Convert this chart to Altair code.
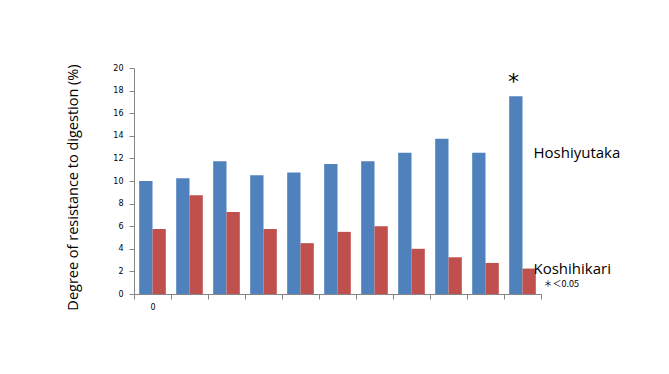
import altair as alt
import pandas as pd

groups = list(range(11))
tick_labels = ["0", "", "", "", "", "", "", "", "", "", ""]
series = ["Hoshiyutaka", "Koshihikari"]
hoshiyutaka = [10.0, 10.25, 11.75, 10.5, 10.75, 11.5, 11.75, 12.5, 13.75, 12.5, 17.5]
koshihikari = [5.75, 8.75, 7.25, 5.75, 4.5, 5.5, 6.0, 4.0, 3.25, 2.75, 2.25]
y_ticks = [0, 2, 4, 6, 8, 10, 12, 14, 16, 18, 20]
colors = ["#4F81BD", "#C0504D"]

rows = []
for g, h, k in zip(groups, hoshiyutaka, koshihikari):
    rows.append({"group": g, "series": "Hoshiyutaka", "value": h})
    rows.append({"group": g, "series": "Koshihikari", "value": k})
df = pd.DataFrame(rows)

label_expr = "[" + ",".join("'%s'" % t for t in tick_labels) + "][datum.value]"

x_scale = alt.Scale(domain=groups, paddingInner=0, paddingOuter=0)
y_scale = alt.Scale(domain=[0, 20], nice=False)

x_axis = alt.Axis(
    title=None, labelExpr=label_expr, labelAngle=0, tickBand="extent",
    domainColor="#868686", tickColor="#868686", tickSize=5,
    labelFont="DejaVu Sans", labelFontSize=8, labelColor="#000000", labelPadding=4,
)
y_axis = alt.Axis(
    title="Degree of resistance to digestion (%)", values=y_ticks,
    grid=False, domainColor="#868686", tickColor="#868686", tickSize=5,
    labelFont="DejaVu Sans", labelFontSize=8, labelColor="#000000", labelPadding=6,
    labelOverlap=False,
    titleFont="Open Sans", titleFontSize=14.5, titleFontWeight="normal", titleColor="#000000",
    titleX=-61, titleY=119, titleAngle=-90, titleBaseline="middle",
)

def xy():
    return dict(
        x=alt.X("group:O", scale=x_scale, axis=x_axis),
        y=alt.Y("value:Q", scale=y_scale, axis=y_axis),
    )

bars = alt.Chart(df).mark_bar().encode(
    xOffset=alt.XOffset("series:N", scale=alt.Scale(domain=series, paddingInner=0, paddingOuter=0.39)),
    color=alt.Color("series:N", scale=alt.Scale(domain=series, range=colors), legend=None),
    **xy(),
)

last = groups[-1]
star = alt.Chart(pd.DataFrame({"group": [last], "value": [hoshiyutaka[-1]], "t": ["*"]})).mark_text(
    font="DejaVu Sans", fontSize=22, dx=-9, dy=-2, baseline="bottom", color="#000000"
).encode(text="t:N", **xy())

series_labels = alt.Chart(pd.DataFrame({
    "group": [last, last],
    "value": [12.45, 2.2],
    "t": ["Hoshiyutaka", "Koshihikari"],
})).mark_text(
    font="Open Sans", fontSize=15, align="left", baseline="middle", dx=11, color="#000000"
).encode(text="t:N", **xy())

note = alt.Chart(pd.DataFrame({"group": [last], "value": [0.85], "t": ["＊＜0.05"]})).mark_text(
    font="Noto Sans CJK JP", fontSize=9, align="left", baseline="middle", dx=21, color="#000000"
).encode(text="t:N", **xy())

chart = alt.layer(bars, star, series_labels, note).properties(
    width=407, height=226,
    autosize=alt.AutoSizeParams(type="none"),
    padding={"left": 134, "top": 68, "right": 128, "bottom": 80},
    background="white",
).configure_view(stroke=None).configure_axisY(labelOverlap=False)

chart.save("out.html", embed_options={"renderer": "svg", "actions": False})
